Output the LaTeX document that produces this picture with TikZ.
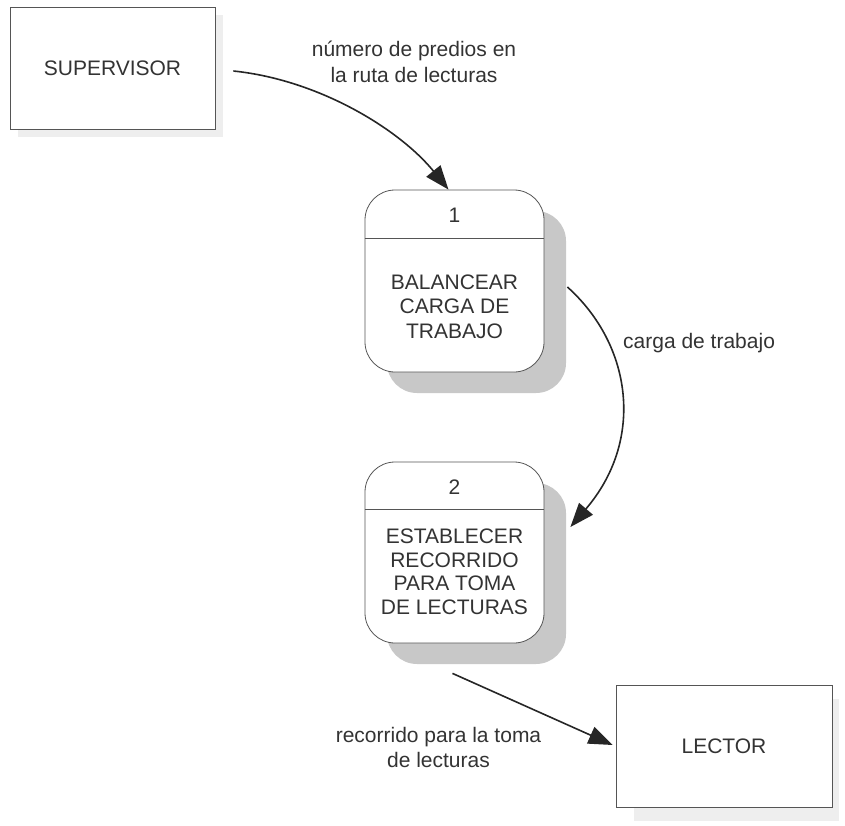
\documentclass[tikz,border=0pt]{standalone}
\usepackage{fontspec}
\setmainfont{Liberation Sans}
\usetikzlibrary{arrows.meta,calc}
\definecolor{ink}{HTML}{333333}
\definecolor{edgec}{HTML}{555555}
\definecolor{shade}{HTML}{C8C8C8}
\definecolor{faint}{HTML}{EEEEEE}
\tikzset{
  extbox/.style={draw=edgec, line width=0.8pt, fill=white, minimum width=205pt, minimum height=122pt, inner sep=0pt, font=\fontsize{21}{25}\selectfont, text=ink},
  extshadow/.style={fill=faint, draw=none, minimum width=205pt, minimum height=122pt, inner sep=0pt},
  procbox/.style={draw=edgec, line width=0.8pt, fill=white, rounded corners=30pt, minimum width=179pt, inner sep=0pt},
  procshadow/.style={fill=shade, draw=none, rounded corners=30pt, minimum width=179pt, inner sep=0pt},
  divider/.style={draw=edgec, line width=0.8pt},
  lbl/.style={font=\fontsize{21}{26}\selectfont, text=ink, align=center, inner sep=0pt},
  flow/.style={draw=black!85, line width=1.6pt, -{Triangle[length=24pt,width=18pt]}}
}
\begin{document}
\begin{tikzpicture}[x=1pt,y=-1pt]
\useasboundingbox (0,0) rectangle (845,826);
% shadows
\node[extshadow] (sups) at (120,76) {};
\node[extshadow] (lecs) at (736,760) {};
\node[procshadow, minimum height=182pt] (p1s) at (476.5,302) {};
\node[procshadow, minimum height=181pt] (p2s) at (476.5,573.5) {};
% external entities
\node[extbox] (sup) at (112.5,68) {SUPERVISOR};
\node[extbox, minimum width=216pt] (lec) at (724,746) {LECTOR};
% processes
\node[procbox, minimum height=182pt] (p1) at (454.5,281) {};
\draw[divider] ($(p1.north west)+(0,49)$) -- ($(p1.north east)+(0,49)$);
\node[lbl] (p1n) at (454.5,215) {1};
\node[lbl, font=\fontsize{21}{24.5}\selectfont] (p1t) at (454.5,306.5) {BALANCEAR\\CARGA DE\\TRABAJO};
\node[procbox, minimum height=181pt] (p2) at (454.5,552.5) {};
\draw[divider] ($(p2.north west)+(0,48)$) -- ($(p2.north east)+(0,48)$);
\node[lbl] (p2n) at (454.5,487) {2};
\node[lbl, font=\fontsize{21}{23.5}\selectfont] (p2t) at (454.5,572) {ESTABLECER\\RECORRIDO\\PARA TOMA\\DE LECTURAS};
% flows
\draw[flow] ($(sup.east)+(18,3)$) .. controls (320,80) and (400,130) .. ($(p1.north)+(-6,0)$);
\draw[flow] ($(p1.east)+(23,6)$) .. controls (632,345) and (645,440) .. ($(p2.east)+(26,-25.5)$);
\draw[flow] ($(p2.south)+(-2,30)$) -- ($(lec.west)+(-3,-1)$);
% labels
\node[lbl] (l1) at (414,62) {número de predios en\\la ruta de lecturas};
\node[lbl, anchor=west] (l2) at (623,343) {carga de trabajo};
\node[lbl, font=\fontsize{21}{25}\selectfont] (l3) at (438.5,747.5) {recorrido para la toma\\de lecturas};
\end{tikzpicture}
\end{document}
